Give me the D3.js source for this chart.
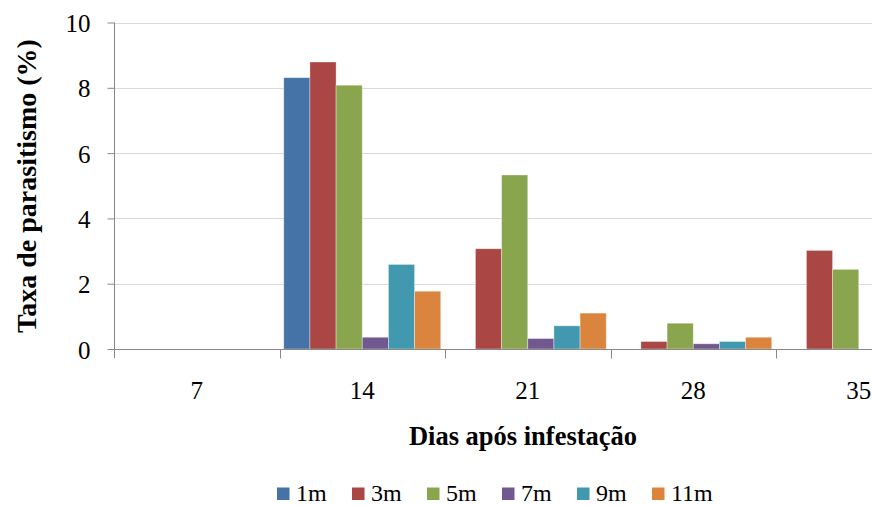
<!DOCTYPE html>
<html>
<head>
<meta charset="utf-8">
<script src="https://cdn.jsdelivr.net/npm/d3@7"></script>
<style>
  html, body { margin: 0; padding: 0; background: #fff; overflow: hidden; }
  svg { display: block; }
  svg text { font-family: "Liberation Serif", "Times New Roman", serif; }
</style>
</head>
<body>
<svg id="chart" width="872" height="505"></svg>
<script>
// Days after infestation (category axis)
const days = ["7", "14", "21", "28", "35"];
// Series (distance in metres)
const seriesNames = ["1m", "3m", "5m", "7m", "9m", "11m"];
const seriesColors = ["#4572A7", "#AA4643", "#89A54E", "#71588F", "#4198AF", "#DB843D"];
// Parasitism rate (%) per series, one value per day
const s1m  = [0, 8.31, 0,    0,    0];
const s3m  = [0, 8.79, 3.07, 0.23, 3.02];
const s5m  = [0, 8.08, 5.33, 0.79, 2.44];
const s7m  = [0, 0.36, 0.32, 0.16, 0];
const s9m  = [0, 2.59, 0.71, 0.23, 0];
const s11m = [0, 1.77, 1.10, 0.36, 0];
const yTicks = [0, 2, 4, 6, 8, 10];

const seriesValues = [s1m, s3m, s5m, s7m, s9m, s11m];

const svg = d3.select("#chart");
const plotLeft = 114, plotTop = 22.5, plotBottom = 349, bandW = 165.5;

const x = d3.scaleBand().domain(days).range([plotLeft, plotLeft + bandW * days.length]).paddingInner(0).paddingOuter(0);
const xInner = d3.scaleBand().domain(seriesNames).range([0, x.bandwidth()]).paddingInner(0).paddingOuter(0.163);
const y = d3.scaleLinear().domain([0, 10]).range([plotBottom, plotTop]);

// Horizontal gridlines
svg.append("g")
  .selectAll("line")
  .data(yTicks.filter(d => d > 0))
  .join("line")
  .attr("x1", plotLeft).attr("x2", 872)
  .attr("y1", d => Math.round(y(d)) + 0.5).attr("y2", d => Math.round(y(d)) + 0.5)
  .attr("stroke", "#d9d9d9").attr("stroke-width", 1.2);

// Bars
const groups = svg.append("g")
  .selectAll("g")
  .data(seriesNames.map((name, i) => ({ name, color: seriesColors[i], values: seriesValues[i] })))
  .join("g")
  .attr("fill", d => d.color);

groups.selectAll("rect")
  .data(d => d.values.map((v, j) => ({ name: d.name, day: days[j], v })).filter(d => d.v > 0))
  .join("rect")
  .attr("x", d => x(d.day) + xInner(d.name))
  .attr("width", xInner.bandwidth())
  .attr("y", d => y(d.v))
  .attr("height", d => y(0) - y(d.v))
  .attr("stroke", "rgba(255,255,255,0.45)")
  .attr("stroke-width", 0.8);

// Y axis
const yAxis = svg.append("g")
  .attr("transform", `translate(${plotLeft + 0.5},0)`)
  .call(d3.axisLeft(y).tickValues(yTicks).tickSize(7).tickPadding(17).tickFormat(d3.format("d")));
yAxis.attr("font-family", null);
yAxis.select(".domain").attr("stroke", "#888").attr("d", `M0,${y(10)}V${plotBottom + 9}`);
yAxis.selectAll(".tick line").attr("stroke", "#888");
yAxis.selectAll(".tick text").attr("font-size", 25).attr("fill", "#000").attr("dy", "0.36em");

// X axis
const xAxis = svg.append("g")
  .attr("transform", `translate(0,${plotBottom + 0.5})`)
  .call(d3.axisBottom(x).tickSize(0).tickPadding(32));
xAxis.attr("font-family", null);
xAxis.select(".domain").attr("stroke", "#888").attr("d", `M${plotLeft},0H${plotLeft + bandW * days.length}`);
xAxis.selectAll(".tick text").attr("font-size", 25).attr("fill", "#000");
// Category boundary ticks
xAxis.append("g")
  .selectAll("line")
  .data(days.slice(1))
  .join("line")
  .attr("x1", d => Math.round(x(d)) + 0.5).attr("x2", d => Math.round(x(d)) + 0.5)
  .attr("y1", 0).attr("y2", 9)
  .attr("stroke", "#888");

// Axis titles
svg.append("text")
  .attr("transform", `translate(36,186) rotate(-90)`)
  .attr("text-anchor", "middle")
  .attr("font-size", 28).attr("font-weight", "bold")
  .text("Taxa de parasitismo (%)");

svg.append("text")
  .attr("x", 523).attr("y", 445)
  .attr("text-anchor", "middle")
  .attr("font-size", 26.5).attr("font-weight", "bold")
  .text("Dias após infestação");

// Legend
const legX = d3.scalePoint().domain(seriesNames).range([277, 652]);
const leg = svg.append("g")
  .selectAll("g")
  .data(seriesNames)
  .join("g")
  .attr("transform", d => `translate(${legX(d)},0)`);
leg.append("rect")
  .attr("x", 0).attr("y", 487.5).attr("width", 12.5).attr("height", 12.5)
  .attr("fill", (d, i) => seriesColors[i]);
leg.append("text")
  .attr("x", 19).attr("y", 501)
  .attr("font-size", 24)
  .text(d => d);
</script>
</body>
</html>
